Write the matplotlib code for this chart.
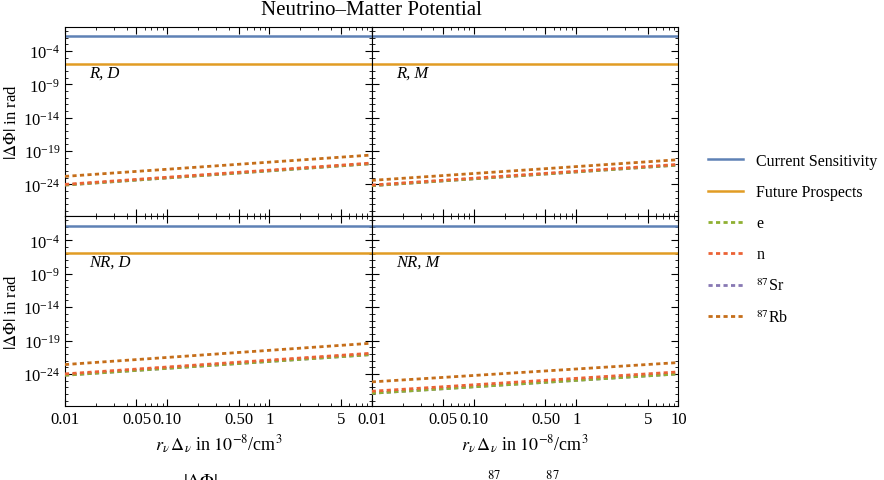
import numpy as np
import matplotlib.pyplot as plt
from matplotlib.ticker import FixedLocator, LogLocator, NullFormatter

plt.rcParams['font.family'] = ['Liberation Serif', 'DejaVu Serif']
plt.rcParams['mathtext.fontset'] = 'stix'

# data (log10 of |dPhi| at x=0.01 and x=10)
x_ends = [0.01, 10]
current_sens = -1.8
future_prosp = -5.9
panels = ['R, D', 'R, M', 'NR, D', 'NR, M']
e_vals = [(-24.1, -20.9), (-24.2, -21.1), (-24.2, -21.1), (-26.9, -24.0)]
n_vals = [(-24.0, -20.8), (-24.1, -21.0), (-24.0, -20.9), (-26.6, -23.7)]
sr_vals = [(-24.1, -20.9), (-24.2, -21.1), (-24.2, -21.1), (-26.9, -24.0)]
rb_vals = [(-22.8, -19.6), (-23.4, -20.3), (-22.6, -19.4), (-25.2, -22.3)]

c_blue, c_orange = '#5e81b5', '#e19c24'
c_e, c_n, c_sr, c_rb = '#8fb032', '#eb6235', '#8778b3', '#c56e1a'

fig = plt.figure(figsize=(8.84, 4.81), dpi=100)
L, W = 0.0735, 0.347
B, H = 0.154, 0.394
pos = [(L, B + H), (L + W, B + H), (L, B), (L + W, B)]
axes = []
for i, (x0, y0) in enumerate(pos):
    ax = fig.add_axes([x0, y0, W, H])
    axes.append(ax)
    xs = np.array(x_ends)
    ax.plot(xs, [10**current_sens] * 2, color=c_blue, lw=1.8, label='Current Sensitivity')
    ax.plot(xs, [10**future_prosp] * 2, color=c_orange, lw=1.8, label='Future Prospects')
    series = [(sr_vals, c_sr, '$^{87}$Sr', 3), (e_vals, c_e, 'e', 4),
              (n_vals, c_n, 'n', 5), (rb_vals, c_rb, '$^{87}$Rb', 6)]
    for vals, c, lab, z in series:
        ax.plot(xs, 10**np.array(vals[i]), color=c, lw=2, ls=(0, (1.5, 1.2)),
                label=lab, zorder=z)
    ax.set_xscale('log')
    ax.set_yscale('log')
    ax.set_xlim(0.01, 10)
    ax.set_ylim(10**-28.8, 10**-0.4)
    ax.yaxis.set_major_locator(FixedLocator([1e-24, 1e-19, 1e-14, 1e-9, 1e-4]))
    ax.yaxis.set_minor_locator(FixedLocator([10.0**k for k in range(-28, 0)]))
    ax.yaxis.set_minor_formatter(NullFormatter())
    ax.xaxis.set_major_locator(FixedLocator([0.01, 0.05, 0.1, 0.5, 1, 5, 10]))
    ax.xaxis.set_minor_locator(LogLocator(base=10, subs=np.arange(2, 10)))
    ax.xaxis.set_minor_formatter(NullFormatter())
    ax.tick_params(which='both', direction='in', top=True, right=True, labelsize=12)
    ax.tick_params(which='major', length=5)
    ax.tick_params(which='minor', length=2.5)
    ax.text(0.08, 0.74, panels[i], transform=ax.transAxes, style='italic', fontsize=12)
    if i in (1, 3):
        ax.set_yticklabels([])
    else:
        ax.set_ylabel(r'$|\Delta\Phi|$ in rad', fontsize=12)
        ax.yaxis.set_label_coords(-0.145, 0.5)
    if i in (0, 1):
        ax.set_xticklabels([])
    else:
        labels = ['0.01', '0.05', '0.10', '0.50', '1', '5', '10' if i == 3 else '']
        ax.set_xticklabels(labels)
        ax.set_xlabel(r'$r_\nu\,\Delta_\nu$ in $10^{-8}$/cm$^3$', fontsize=13)

handles, labels = axes[0].get_legend_handles_labels()
order = [0, 1, 3, 4, 2, 5]
fig.suptitle('Neutrino\u2013Matter Potential', x=0.42, y=0.997, fontsize=15)
fig.legend([handles[k] for k in order], [labels[k] for k in order],
           loc='center left', bbox_to_anchor=(0.785, 0.5), frameon=False,
           fontsize=11.5, handlelength=2.2, labelspacing=0.95)
fig.text(0.42, -0.02, r'$|\Delta\Phi|$' + ' ' * 60 + r'$^{87}$          $^{87}$',
         fontsize=13, ha='center', va='bottom')
fig.savefig('out.png', dpi=100)
